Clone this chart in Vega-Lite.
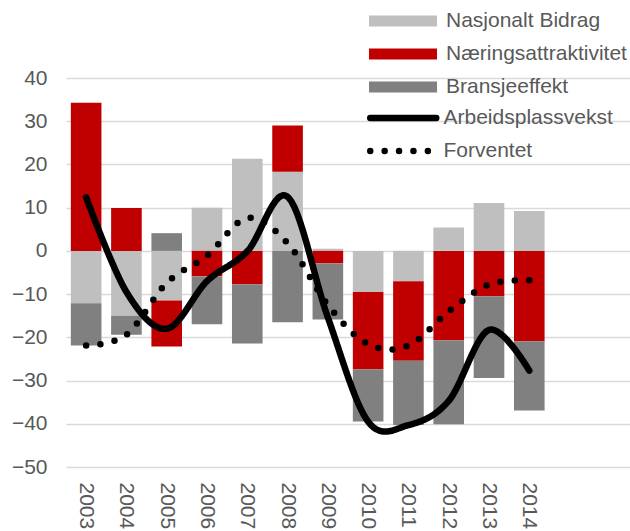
{
  "$schema": "https://vega.github.io/schema/vega-lite/v6.json",
  "autosize": {"type": "none"},
  "padding": {"left": 66, "top": 78, "right": 0, "bottom": 64},
  "width": 564,
  "height": 389,
  "config": {
    "view": {"stroke": null},
    "font": "Liberation Sans",
    "axis": {"labelFont": "Liberation Sans", "labelFontSize": 21, "labelColor": "#595959"},
    "legend": {"labelFont": "Liberation Sans", "labelFontSize": 21, "labelColor": "#595959", "labelLimit": 400, "padding": 0}
  },
  "datasets": {
    "bars": [
      {"year": "2003", "komponent": "Nasjonalt Bidrag", "rekke": 1, "verdi": -12.1},
      {"year": "2003", "komponent": "Næringsattraktivitet", "rekke": 2, "verdi": 34.3},
      {"year": "2003", "komponent": "Bransjeeffekt", "rekke": 3, "verdi": -9.8},
      {"year": "2004", "komponent": "Nasjonalt Bidrag", "rekke": 1, "verdi": -15.0},
      {"year": "2004", "komponent": "Næringsattraktivitet", "rekke": 2, "verdi": 9.9},
      {"year": "2004", "komponent": "Bransjeeffekt", "rekke": 3, "verdi": -4.4},
      {"year": "2005", "komponent": "Nasjonalt Bidrag", "rekke": 1, "verdi": -11.5},
      {"year": "2005", "komponent": "Næringsattraktivitet", "rekke": 2, "verdi": -10.6},
      {"year": "2005", "komponent": "Bransjeeffekt", "rekke": 3, "verdi": 4.1},
      {"year": "2006", "komponent": "Nasjonalt Bidrag", "rekke": 1, "verdi": 10.0},
      {"year": "2006", "komponent": "Næringsattraktivitet", "rekke": 2, "verdi": -5.9},
      {"year": "2006", "komponent": "Bransjeeffekt", "rekke": 3, "verdi": -11.1},
      {"year": "2007", "komponent": "Nasjonalt Bidrag", "rekke": 1, "verdi": 21.3},
      {"year": "2007", "komponent": "Næringsattraktivitet", "rekke": 2, "verdi": -7.7},
      {"year": "2007", "komponent": "Bransjeeffekt", "rekke": 3, "verdi": -13.7},
      {"year": "2008", "komponent": "Nasjonalt Bidrag", "rekke": 1, "verdi": 18.3},
      {"year": "2008", "komponent": "Næringsattraktivitet", "rekke": 2, "verdi": 10.7},
      {"year": "2008", "komponent": "Bransjeeffekt", "rekke": 3, "verdi": -16.5},
      {"year": "2009", "komponent": "Nasjonalt Bidrag", "rekke": 1, "verdi": 0.5},
      {"year": "2009", "komponent": "Næringsattraktivitet", "rekke": 2, "verdi": -2.9},
      {"year": "2009", "komponent": "Bransjeeffekt", "rekke": 3, "verdi": -13.0},
      {"year": "2010", "komponent": "Nasjonalt Bidrag", "rekke": 1, "verdi": -9.5},
      {"year": "2010", "komponent": "Næringsattraktivitet", "rekke": 2, "verdi": -17.9},
      {"year": "2010", "komponent": "Bransjeeffekt", "rekke": 3, "verdi": -12.1},
      {"year": "2011", "komponent": "Nasjonalt Bidrag", "rekke": 1, "verdi": -7.0},
      {"year": "2011", "komponent": "Næringsattraktivitet", "rekke": 2, "verdi": -18.4},
      {"year": "2011", "komponent": "Bransjeeffekt", "rekke": 3, "verdi": -14.9},
      {"year": "2012", "komponent": "Nasjonalt Bidrag", "rekke": 1, "verdi": 5.4},
      {"year": "2012", "komponent": "Næringsattraktivitet", "rekke": 2, "verdi": -20.7},
      {"year": "2012", "komponent": "Bransjeeffekt", "rekke": 3, "verdi": -19.4},
      {"year": "2013", "komponent": "Nasjonalt Bidrag", "rekke": 1, "verdi": 11.1},
      {"year": "2013", "komponent": "Næringsattraktivitet", "rekke": 2, "verdi": -10.5},
      {"year": "2013", "komponent": "Bransjeeffekt", "rekke": 3, "verdi": -18.9},
      {"year": "2014", "komponent": "Nasjonalt Bidrag", "rekke": 1, "verdi": 9.2},
      {"year": "2014", "komponent": "Næringsattraktivitet", "rekke": 2, "verdi": -20.9},
      {"year": "2014", "komponent": "Bransjeeffekt", "rekke": 3, "verdi": -16.0}
    ],
    "lines": [
      {"year": "2003", "serie": "Arbeidsplassvekst", "verdi": 12.4},
      {"year": "2004", "serie": "Arbeidsplassvekst", "verdi": -9.5},
      {"year": "2005", "serie": "Arbeidsplassvekst", "verdi": -18.0},
      {"year": "2006", "serie": "Arbeidsplassvekst", "verdi": -7.0},
      {"year": "2007", "serie": "Arbeidsplassvekst", "verdi": -0.1},
      {"year": "2008", "serie": "Arbeidsplassvekst", "verdi": 12.5},
      {"year": "2009", "serie": "Arbeidsplassvekst", "verdi": -15.4},
      {"year": "2010", "serie": "Arbeidsplassvekst", "verdi": -39.5},
      {"year": "2011", "serie": "Arbeidsplassvekst", "verdi": -40.3},
      {"year": "2012", "serie": "Arbeidsplassvekst", "verdi": -34.7},
      {"year": "2013", "serie": "Arbeidsplassvekst", "verdi": -18.3},
      {"year": "2014", "serie": "Arbeidsplassvekst", "verdi": -27.7},
      {"year": "2003", "serie": "Forventet", "verdi": -21.9},
      {"year": "2004", "serie": "Forventet", "verdi": -19.4},
      {"year": "2005", "serie": "Forventet", "verdi": -7.4},
      {"year": "2006", "serie": "Forventet", "verdi": -1.1},
      {"year": "2007", "serie": "Forventet", "verdi": 7.6},
      {"year": "2008", "serie": "Forventet", "verdi": 1.8},
      {"year": "2009", "serie": "Forventet", "verdi": -12.5},
      {"year": "2010", "serie": "Forventet", "verdi": -21.6},
      {"year": "2011", "serie": "Forventet", "verdi": -21.9},
      {"year": "2012", "serie": "Forventet", "verdi": -14.0},
      {"year": "2013", "serie": "Forventet", "verdi": -7.8},
      {"year": "2014", "serie": "Forventet", "verdi": -6.8}
    ]
  },
  "encoding": {
    "x": {
      "field": "year", "type": "nominal",
      "scale": {"domain": ["2003","2004","2005","2006","2007","2008","2009","2010","2011","2012","2013","2014"," ","  "], "paddingInner": 0.24, "paddingOuter": 0.12},
      "axis": {"title": null, "labelAngle": 90, "labelAlign": "left", "labelBaseline": "middle", "labelPadding": 15, "ticks": false, "domain": false, "grid": false}
    }
  },
  "layer": [
    {
      "data": {"name": "bars"},
      "mark": {"type": "bar"},
      "encoding": {
        "y": {
          "field": "verdi", "type": "quantitative", "stack": "zero",
          "scale": {"domain": [-50, 40], "nice": false, "zero": false},
          "axis": {"title": null, "values": [-50,-40,-30,-20,-10,0,10,20,30,40], "ticks": false, "domain": false, "grid": true, "gridColor": "#d9d9d9", "gridWidth": 1.3, "labelPadding": 19}
        },
        "order": {"field": "rekke", "type": "quantitative"},
        "fill": {
          "field": "komponent", "type": "nominal",
          "scale": {"domain": ["Nasjonalt Bidrag", "Næringsattraktivitet", "Bransjeeffekt"], "range": ["#bfbfbf", "#c00000", "#808080"]},
          "legend": {
            "title": null, "orient": "none", "legendX": 303, "legendY": -68,
            "symbolType": "M-1,-0.16H1V0.16H-1Z", "symbolSize": 4624, "symbolStrokeWidth": 0, "symbolOpacity": 1,
            "clipHeight": 22, "rowPadding": 11, "labelOffset": 9, "symbolOffset": 0
          }
        }
      }
    },
    {
      "data": {"name": "lines"},
      "mark": {"type": "line", "interpolate": "cardinal", "color": "black", "strokeWidth": 6.5, "strokeCap": "round"},
      "encoding": {
        "y": {"field": "verdi", "type": "quantitative"},
        "strokeDash": {
          "field": "serie", "type": "nominal",
          "scale": {"domain": ["Arbeidsplassvekst", "Forventet"], "range": [[1, 0], [0, 14.4]]},
          "legend": {
            "title": null, "orient": "none", "legendX": 300.75, "legendY": 29,
            "symbolType": "stroke", "symbolSize": 4356, "symbolStrokeWidth": 6.5, "symbolStrokeColor": "black",
            "clipHeight": 22, "rowPadding": 11, "labelOffset": 3.75, "symbolOffset": 0,
            "encode": {"symbols": {"update": {"strokeCap": {"value": "round"}}}}
          }
        }
      }
    }
  ]
}
